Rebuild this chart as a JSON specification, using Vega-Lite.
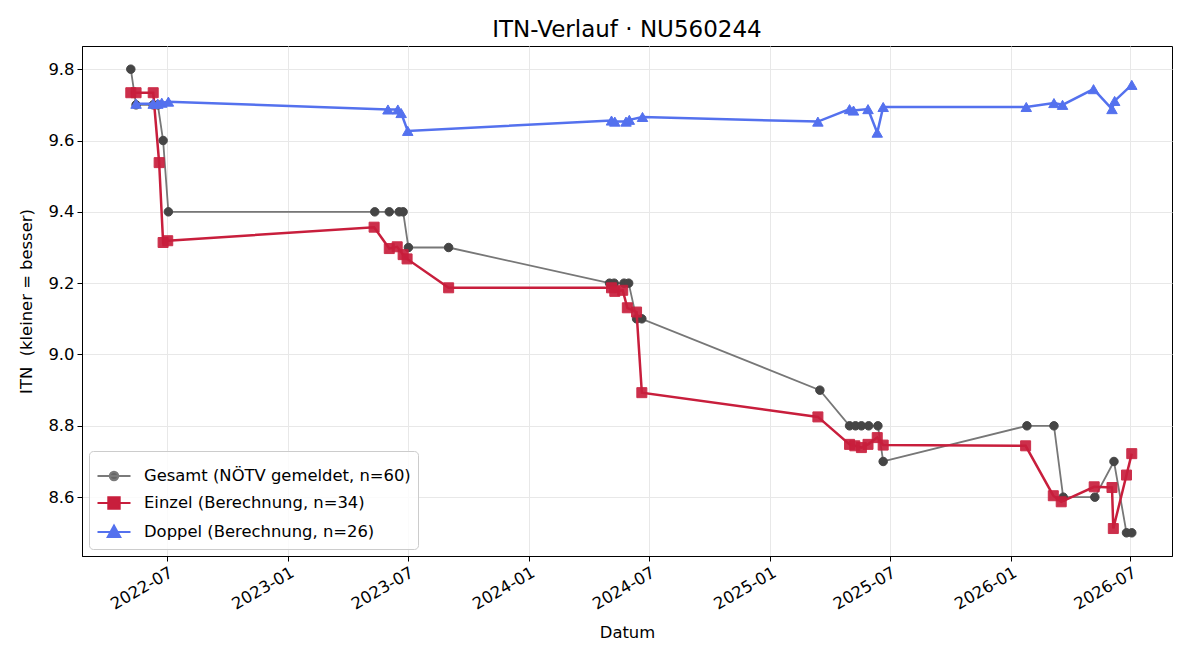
{
  "$schema": "https://vega.github.io/schema/vega-lite/v6.json",
  "autosize": "none",
  "width": 1090,
  "height": 510,
  "padding": {"left": 82, "top": 46, "right": 28, "bottom": 104},
  "background": "white",
  "title": {"text": "ITN-Verlauf · NU560244", "font": "DejaVu Sans", "fontSize": 23, "fontWeight": "normal", "color": "black", "offset": 4, "anchor": "middle"},
  "config": {
    "view": {"stroke": "black", "strokeWidth": 1},
    "axis": {
      "domainColor": "black", "tickColor": "black", "tickSize": 5, "tickWidth": 1,
      "labelFont": "DejaVu Sans", "labelFontSize": 16.4, "labelColor": "black",
      "titleFont": "DejaVu Sans", "titleFontSize": 16.4, "titleFontWeight": "normal", "titleColor": "black",
      "gridColor": "#e8e8e8", "gridWidth": 1
    }
  },
  "data": {"values": [
    {"s": "G", "d": "2022-05-07", "v": 9.8},
    {"s": "G", "d": "2022-05-15", "v": 9.7},
    {"s": "G", "d": "2022-06-10", "v": 9.7},
    {"s": "G", "d": "2022-06-17", "v": 9.7},
    {"s": "G", "d": "2022-06-25", "v": 9.6},
    {"s": "G", "d": "2022-07-03", "v": 9.4},
    {"s": "G", "d": "2023-05-12", "v": 9.4},
    {"s": "G", "d": "2023-06-03", "v": 9.4},
    {"s": "G", "d": "2023-06-18", "v": 9.4},
    {"s": "G", "d": "2023-06-24", "v": 9.4},
    {"s": "G", "d": "2023-07-02", "v": 9.3},
    {"s": "G", "d": "2023-09-01", "v": 9.3},
    {"s": "G", "d": "2024-05-02", "v": 9.2},
    {"s": "G", "d": "2024-05-09", "v": 9.2},
    {"s": "G", "d": "2024-05-24", "v": 9.2},
    {"s": "G", "d": "2024-05-31", "v": 9.2},
    {"s": "G", "d": "2024-06-12", "v": 9.1},
    {"s": "G", "d": "2024-06-20", "v": 9.1},
    {"s": "G", "d": "2025-03-17", "v": 8.9},
    {"s": "G", "d": "2025-05-01", "v": 8.8},
    {"s": "G", "d": "2025-05-10", "v": 8.8},
    {"s": "G", "d": "2025-05-19", "v": 8.8},
    {"s": "G", "d": "2025-05-30", "v": 8.8},
    {"s": "G", "d": "2025-06-13", "v": 8.8},
    {"s": "G", "d": "2025-06-21", "v": 8.7},
    {"s": "G", "d": "2026-01-25", "v": 8.8},
    {"s": "G", "d": "2026-03-07", "v": 8.8},
    {"s": "G", "d": "2026-03-21", "v": 8.6},
    {"s": "G", "d": "2026-05-08", "v": 8.6},
    {"s": "G", "d": "2026-06-06", "v": 8.7},
    {"s": "G", "d": "2026-06-25", "v": 8.5},
    {"s": "G", "d": "2026-07-03", "v": 8.5},
    {"s": "E", "d": "2022-05-07", "v": 9.734},
    {"s": "E", "d": "2022-05-15", "v": 9.734},
    {"s": "E", "d": "2022-06-10", "v": 9.734},
    {"s": "E", "d": "2022-06-19", "v": 9.538},
    {"s": "E", "d": "2022-06-25", "v": 9.314},
    {"s": "E", "d": "2022-07-02", "v": 9.319},
    {"s": "E", "d": "2023-05-11", "v": 9.357},
    {"s": "E", "d": "2023-06-03", "v": 9.297},
    {"s": "E", "d": "2023-06-15", "v": 9.302},
    {"s": "E", "d": "2023-06-24", "v": 9.28},
    {"s": "E", "d": "2023-06-30", "v": 9.268},
    {"s": "E", "d": "2023-09-01", "v": 9.187},
    {"s": "E", "d": "2024-05-05", "v": 9.187},
    {"s": "E", "d": "2024-05-10", "v": 9.177},
    {"s": "E", "d": "2024-05-22", "v": 9.18},
    {"s": "E", "d": "2024-05-29", "v": 9.131},
    {"s": "E", "d": "2024-06-12", "v": 9.119},
    {"s": "E", "d": "2024-06-20", "v": 8.893},
    {"s": "E", "d": "2025-03-14", "v": 8.825},
    {"s": "E", "d": "2025-05-01", "v": 8.748},
    {"s": "E", "d": "2025-05-09", "v": 8.744},
    {"s": "E", "d": "2025-05-19", "v": 8.739},
    {"s": "E", "d": "2025-05-29", "v": 8.748},
    {"s": "E", "d": "2025-06-12", "v": 8.767},
    {"s": "E", "d": "2025-06-21", "v": 8.746},
    {"s": "E", "d": "2026-01-23", "v": 8.744},
    {"s": "E", "d": "2026-03-06", "v": 8.604},
    {"s": "E", "d": "2026-03-18", "v": 8.587},
    {"s": "E", "d": "2026-05-07", "v": 8.629},
    {"s": "E", "d": "2026-06-03", "v": 8.627},
    {"s": "E", "d": "2026-06-05", "v": 8.512},
    {"s": "E", "d": "2026-06-25", "v": 8.662},
    {"s": "E", "d": "2026-07-03", "v": 8.722},
    {"s": "D", "d": "2022-05-15", "v": 9.703},
    {"s": "D", "d": "2022-06-10", "v": 9.703},
    {"s": "D", "d": "2022-06-17", "v": 9.703},
    {"s": "D", "d": "2022-06-23", "v": 9.706},
    {"s": "D", "d": "2022-07-03", "v": 9.709},
    {"s": "D", "d": "2023-06-01", "v": 9.687},
    {"s": "D", "d": "2023-06-16", "v": 9.687},
    {"s": "D", "d": "2023-06-21", "v": 9.677},
    {"s": "D", "d": "2023-07-01", "v": 9.627},
    {"s": "D", "d": "2024-05-05", "v": 9.656},
    {"s": "D", "d": "2024-05-10", "v": 9.653},
    {"s": "D", "d": "2024-05-27", "v": 9.653},
    {"s": "D", "d": "2024-06-01", "v": 9.658},
    {"s": "D", "d": "2024-06-21", "v": 9.666},
    {"s": "D", "d": "2025-03-14", "v": 9.653},
    {"s": "D", "d": "2025-05-01", "v": 9.688},
    {"s": "D", "d": "2025-05-07", "v": 9.684},
    {"s": "D", "d": "2025-05-29", "v": 9.688},
    {"s": "D", "d": "2025-06-12", "v": 9.622},
    {"s": "D", "d": "2025-06-21", "v": 9.694},
    {"s": "D", "d": "2026-01-24", "v": 9.694},
    {"s": "D", "d": "2026-03-07", "v": 9.705},
    {"s": "D", "d": "2026-03-20", "v": 9.7},
    {"s": "D", "d": "2026-05-06", "v": 9.744},
    {"s": "D", "d": "2026-06-03", "v": 9.688},
    {"s": "D", "d": "2026-06-07", "v": 9.711},
    {"s": "D", "d": "2026-07-03", "v": 9.756}
  ]},
  "encoding": {
    "x": {"field": "d", "type": "temporal", "title": "Datum",
      "scale": {"domain": [{"year": 2022, "month": 2, "date": 22}, {"year": 2026, "month": 9, "date": 2}]},
      "axis": {"format": "%Y-%m", "tickCount": {"interval": "month", "step": 6}, "labelAngle": -30, "labelAlign": "right", "labelBaseline": "top", "labelPadding": 3, "titlePadding": 12, "grid": true}},
    "y": {"field": "v", "type": "quantitative", "title": "ITN\u00a0 (kleiner = besser)",
      "scale": {"domain": [8.435, 9.865], "nice": false, "zero": false},
      "axis": {"values": [8.6, 8.8, 9.0, 9.2, 9.4, 9.6, 9.8], "format": ".1f", "labelPadding": 3, "titlePadding": 13, "grid": true}}
  },
  "layer": [
    {"transform": [{"filter": "datum.s === 'G'"}], "mark": {"type": "line", "color": "#777777", "strokeWidth": 1.8}},
    {"transform": [{"filter": "datum.s === 'G'"}], "mark": {"type": "point", "filled": true, "shape": "circle", "size": 72, "color": "#454545", "stroke": "#454545", "strokeWidth": 1, "opacity": 1}},
    {"transform": [{"filter": "datum.s === 'E'"}], "mark": {"type": "line", "color": "#C81E3C", "strokeWidth": 2.5}},
    {"transform": [{"filter": "datum.s === 'E'"}], "mark": {"type": "point", "filled": true, "shape": "square", "size": 100, "color": "#C81E3C", "stroke": "#C81E3C", "strokeWidth": 1, "opacity": 0.92}},
    {"transform": [{"filter": "datum.s === 'D'"}], "mark": {"type": "line", "color": "#5471EE", "strokeWidth": 2.5}},
    {"transform": [{"filter": "datum.s === 'D'"}], "mark": {"type": "point", "filled": true, "shape": "triangle-up", "size": 110, "color": "#5471EE", "stroke": "#5471EE", "strokeWidth": 1, "opacity": 1}},
    {"transform": [{"filter": "false"}], "mark": {"type": "point", "filled": true, "opacity": 1},
      "encoding": {
        "color": {"field": "s", "type": "nominal", "scale": {"domain": ["G", "E", "D"], "range": ["#666666", "#C81E3C", "#5471EE"]},
          "legend": {
            "title": null, "orient": "bottom-left", "direction": "vertical", "columns": 1, "offset": 7, "padding": 7,
            "symbolSize": 1089, "symbolStrokeWidth": 2.2, "symbolOpacity": 1, "labelOffset": 12, "rowPadding": -5, "labelLimit": 500,
            "labelFont": "DejaVu Sans", "labelFontSize": 16.4, "labelColor": "black",
            "labelExpr": "datum.value === 'G' ? 'Gesamt (NÖTV gemeldet, n=60)' : datum.value === 'E' ? 'Einzel (Berechnung, n=34)' : 'Doppel (Berechnung, n=26)'",
            "strokeColor": "#cccccc", "fillColor": "rgba(255,255,255,0.8)", "cornerRadius": 4
          }},
        "stroke": {"field": "s", "type": "nominal", "scale": {"domain": ["G", "E", "D"], "range": ["#7a7a7a", "#C81E3C", "#5471EE"]},
          "legend": {
            "title": null, "orient": "bottom-left", "direction": "vertical", "columns": 1, "offset": 7, "padding": 7,
            "symbolSize": 1089, "symbolStrokeWidth": 2.2, "symbolOpacity": 1, "labelOffset": 12, "rowPadding": -5, "labelLimit": 500,
            "labelFont": "DejaVu Sans", "labelFontSize": 16.4, "labelColor": "black",
            "labelExpr": "datum.value === 'G' ? 'Gesamt (NÖTV gemeldet, n=60)' : datum.value === 'E' ? 'Einzel (Berechnung, n=34)' : 'Doppel (Berechnung, n=26)'",
            "strokeColor": "#cccccc", "fillColor": "rgba(255,255,255,0.8)", "cornerRadius": 4
          }},
        "shape": {"field": "s", "type": "nominal", "scale": {"domain": ["G", "E", "D"], "range": [
            "M-1,0L1,0M0.25,0A0.25,0.25,0,1,1,-0.25,0A0.25,0.25,0,1,1,0.25,0Z",
            "M-1,0L1,0M-0.34,-0.34L0.34,-0.34L0.34,0.34L-0.34,0.34Z",
            "M-1,0L1,0M0,-0.38L0.37,0.3L-0.37,0.3Z"]},
          "legend": {
            "title": null, "orient": "bottom-left", "direction": "vertical", "columns": 1, "offset": 7, "padding": 7,
            "symbolSize": 1089, "symbolStrokeWidth": 2.2, "symbolOpacity": 1, "labelOffset": 12, "rowPadding": -5, "labelLimit": 500,
            "labelFont": "DejaVu Sans", "labelFontSize": 16.4, "labelColor": "black",
            "labelExpr": "datum.value === 'G' ? 'Gesamt (NÖTV gemeldet, n=60)' : datum.value === 'E' ? 'Einzel (Berechnung, n=34)' : 'Doppel (Berechnung, n=26)'",
            "strokeColor": "#cccccc", "fillColor": "rgba(255,255,255,0.8)", "cornerRadius": 4
          }}
      }}
  ]
}
